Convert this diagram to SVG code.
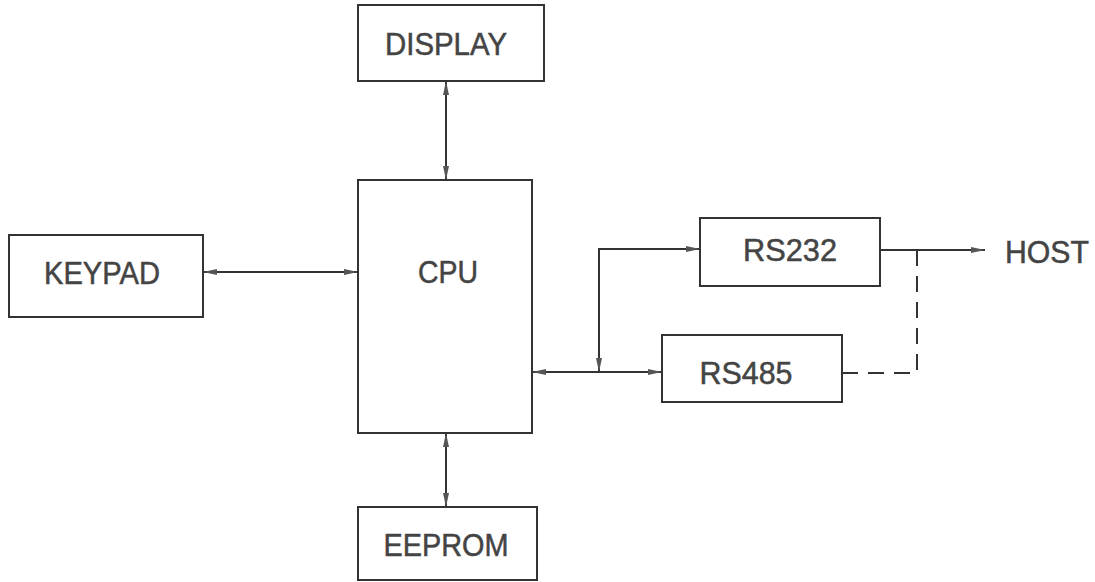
<svg xmlns="http://www.w3.org/2000/svg" width="1095" height="582" viewBox="0 0 1095 582">
<style>
.box{fill:#fff;stroke:#333;stroke-width:2}
.lbl{font-family:"Liberation Sans",Arial,sans-serif;font-size:31px;fill:#444;stroke:#444;stroke-width:0.5;text-anchor:middle;dominant-baseline:central}
.ln{fill:none;stroke:#333;stroke-width:2}
.dash{fill:none;stroke:#333;stroke-width:2;stroke-dasharray:16,10}
</style>
<defs>
<marker id="ah" viewBox="0 0 14 7" refX="14" refY="3.5" markerWidth="14" markerHeight="7" markerUnits="userSpaceOnUse" orient="auto-start-reverse">
<path d="M0,0.5 L14,3.5 L0,6.5 Z" fill="#555"/>
</marker>
</defs>
<rect width="1095" height="582" fill="#fff"/>
<g id="connectors">
<line class="ln" x1="446" y1="81" x2="446" y2="180" marker-start="url(#ah)" marker-end="url(#ah)"/>
<line class="ln" x1="446" y1="433" x2="446" y2="507" marker-start="url(#ah)" marker-end="url(#ah)"/>
<line class="ln" x1="203" y1="272" x2="358" y2="272" marker-start="url(#ah)" marker-end="url(#ah)"/>
<line class="ln" x1="532" y1="372" x2="662" y2="372" marker-start="url(#ah)" marker-end="url(#ah)"/>
<polyline class="ln" points="700,249 599,249 599,372" marker-start="url(#ah)" marker-end="url(#ah)"/>
<line class="ln" x1="880" y1="250" x2="985" y2="250" marker-end="url(#ah)"/>
<polyline class="dash" points="917,250 917,373 842,373"/>
</g>
<g id="display"><rect class="box" x="358" y="5" width="186" height="76"/><text class="lbl" x="446" y="44" textLength="122" lengthAdjust="spacingAndGlyphs">DISPLAY</text></g>
<g id="cpu"><rect class="box" x="358" y="180" width="174" height="253"/><text class="lbl" x="448" y="272" textLength="60" lengthAdjust="spacingAndGlyphs">CPU</text></g>
<g id="eeprom"><rect class="box" x="358" y="507" width="179" height="73"/><text class="lbl" x="446" y="545" textLength="125" lengthAdjust="spacingAndGlyphs">EEPROM</text></g>
<g id="keypad"><rect class="box" x="9" y="235" width="194" height="82"/><text class="lbl" x="102" y="273" textLength="116" lengthAdjust="spacingAndGlyphs">KEYPAD</text></g>
<g id="rs232"><rect class="box" x="700" y="218" width="180" height="68"/><text class="lbl" x="790" y="250" textLength="94" lengthAdjust="spacingAndGlyphs">RS232</text></g>
<g id="rs485"><rect class="box" x="662" y="335" width="180" height="67"/><text class="lbl" x="746" y="373" textLength="93" lengthAdjust="spacingAndGlyphs">RS485</text></g>
<g id="host"><text class="lbl" x="1047" y="252" textLength="84" lengthAdjust="spacingAndGlyphs">HOST</text></g>
</svg>
